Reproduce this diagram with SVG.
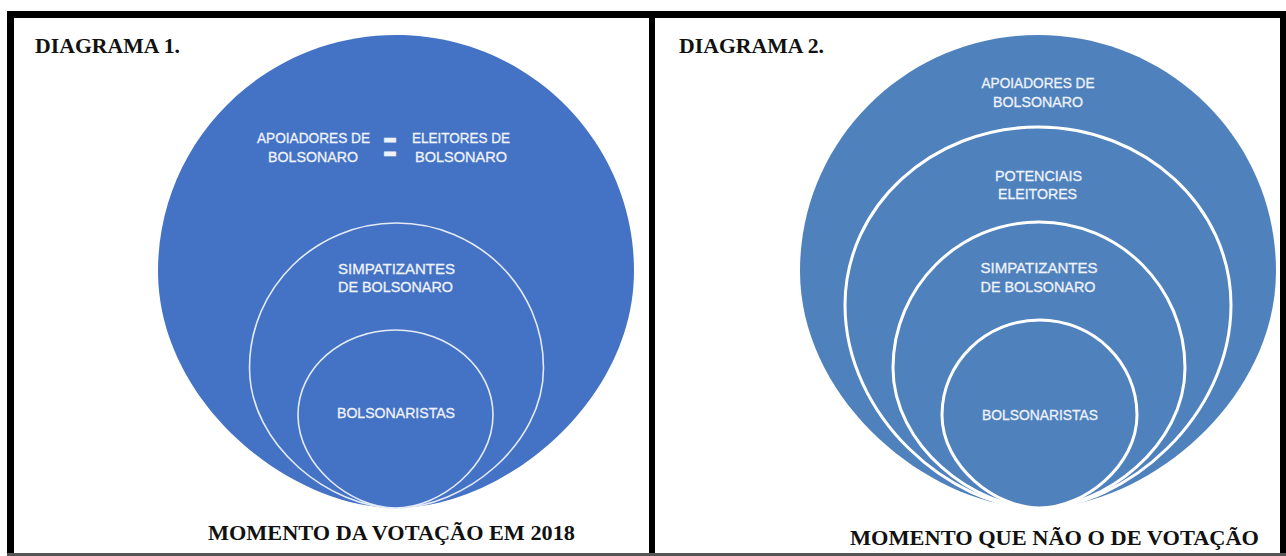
<svg xmlns="http://www.w3.org/2000/svg" width="1286" height="556" viewBox="0 0 1286 556">
<style>
.d1{fill:#4472C4;stroke:#e4ebf7;stroke-width:1.6}
.d1o{fill:#4472C4;stroke:none}
.d2{fill:#4F81BD;stroke:#ffffff;stroke-width:3}
.d2o{fill:#4F81BD;stroke:none}
.lbl{font-family:"Liberation Sans",Arial,sans-serif;font-size:14.5px;fill:#eef2fa;stroke:#eef2fa;stroke-width:0.3;text-anchor:middle}
.ttl{font-family:"Liberation Serif","Times New Roman",serif;font-weight:bold;fill:#111111}
</style>
<rect width="1286" height="556" fill="#ffffff"/>
<g id="frame" fill="#000000">
<rect x="7" y="11" width="1279" height="7"/>
<rect x="7" y="11" width="7" height="545"/>
<rect x="649" y="11" width="6" height="545"/>
<rect x="1280" y="11" width="6" height="545"/>
<rect x="7" y="553" width="1279" height="3" fill="#555555"/>
</g>
<g id="connectors"/>
<g id="d1-title"><text class="ttl" x="35" y="53" font-size="22" textLength="145" lengthAdjust="spacingAndGlyphs">DIAGRAMA 1.</text></g>
<g id="d1-apoiadores">
<path class="d1o" d="M396,35 C527.4,35 634,140.7 634,271 C634,401.9 503.1,508 396,508 C288.9,508 158,401.9 158,271 C158,140.7 264.6,35 396,35Z"/>
<text class="lbl" x="313.5" y="143" textLength="113" lengthAdjust="spacingAndGlyphs">APOIADORES DE</text>
<text class="lbl" x="313" y="162" textLength="90" lengthAdjust="spacingAndGlyphs">BOLSONARO</text>
<text class="lbl" transform="translate(390,0) scale(1,2.3)" x="0" y="71.6" style="font-size:24px">=</text>
<text class="lbl" x="461" y="143" textLength="98" lengthAdjust="spacingAndGlyphs">ELEITORES DE</text>
<text class="lbl" x="461" y="162" textLength="92" lengthAdjust="spacingAndGlyphs">BOLSONARO</text>
</g>
<g id="d1-simpatizantes">
<path class="d1" d="M396.5,223 C477.7,223 543.5,287.9 543.5,368 C543.5,445.3 462.7,508 396.5,508 C330.3,508 249.5,445.3 249.5,368 C249.5,287.9 315.3,223 396.5,223Z"/>
<text class="lbl" x="396.5" y="274" textLength="117" lengthAdjust="spacingAndGlyphs">SIMPATIZANTES</text>
<text class="lbl" x="395.5" y="292" textLength="115" lengthAdjust="spacingAndGlyphs">DE BOLSONARO</text>
</g>
<g id="d1-bolsonaristas">
<path class="d1" d="M395.5,330 C449.3,330 493,368.1 493,415 C493,466.4 439.4,508 395.5,508 C351.6,508 298,466.4 298,415 C298,368.1 341.7,330 395.5,330Z"/>
<text class="lbl" x="396" y="418" textLength="118" lengthAdjust="spacingAndGlyphs">BOLSONARISTAS</text>
</g>
<g id="d1-caption"><text class="ttl" x="208" y="540" font-size="22" textLength="367" lengthAdjust="spacingAndGlyphs">MOMENTO DA VOTAÇÃO EM 2018</text></g>

<g id="d2-title"><text class="ttl" x="679" y="53" font-size="22" textLength="145" lengthAdjust="spacingAndGlyphs">DIAGRAMA 2.</text></g>
<g id="d2-apoiadores">
<path class="d2o" d="M1038,35 C1169.4,35 1276,140.7 1276,271 C1276,401.9 1145.1,508 1038,508 C930.9,508 800,401.9 800,271 C800,140.7 906.6,35 1038,35Z"/>
<text class="lbl" x="1038" y="88" textLength="113" lengthAdjust="spacingAndGlyphs">APOIADORES DE</text>
<text class="lbl" x="1038" y="106.5" textLength="90" lengthAdjust="spacingAndGlyphs">BOLSONARO</text>
</g>
<g id="d2-potenciais">
<path class="d2" d="M1038,127 C1144.6,127 1231,206.7 1231,305 C1231,417.1 1124.9,508 1038,508 C951.1,508 845,417.1 845,305 C845,206.7 931.4,127 1038,127Z"/>
<text class="lbl" x="1038.5" y="181" textLength="87" lengthAdjust="spacingAndGlyphs">POTENCIAIS</text>
<text class="lbl" x="1037.5" y="199" textLength="79" lengthAdjust="spacingAndGlyphs">ELEITORES</text>
</g>
<g id="d2-simpatizantes">
<path class="d2" d="M1039,222 C1119.6,222 1185,287.4 1185,368 C1185,445.3 1104.7,508 1039,508 C973.3,508 893,445.3 893,368 C893,287.4 958.4,222 1039,222Z"/>
<text class="lbl" x="1039" y="273" textLength="117" lengthAdjust="spacingAndGlyphs">SIMPATIZANTES</text>
<text class="lbl" x="1038" y="292" textLength="115" lengthAdjust="spacingAndGlyphs">DE BOLSONARO</text>
</g>
<g id="d2-bolsonaristas">
<path class="d2" d="M1039.5,320 C1093.3,320 1137,362.5 1137,415 C1137,466.4 1083.4,508 1039.5,508 C995.6,508 942,466.4 942,415 C942,362.5 985.7,320 1039.5,320Z"/>
<text class="lbl" x="1040" y="420" textLength="116" lengthAdjust="spacingAndGlyphs">BOLSONARISTAS</text>
</g>
<g id="d2-caption"><text class="ttl" x="850" y="545" font-size="22" textLength="409" lengthAdjust="spacingAndGlyphs">MOMENTO QUE NÃO O DE VOTAÇÃO</text></g>
</svg>
